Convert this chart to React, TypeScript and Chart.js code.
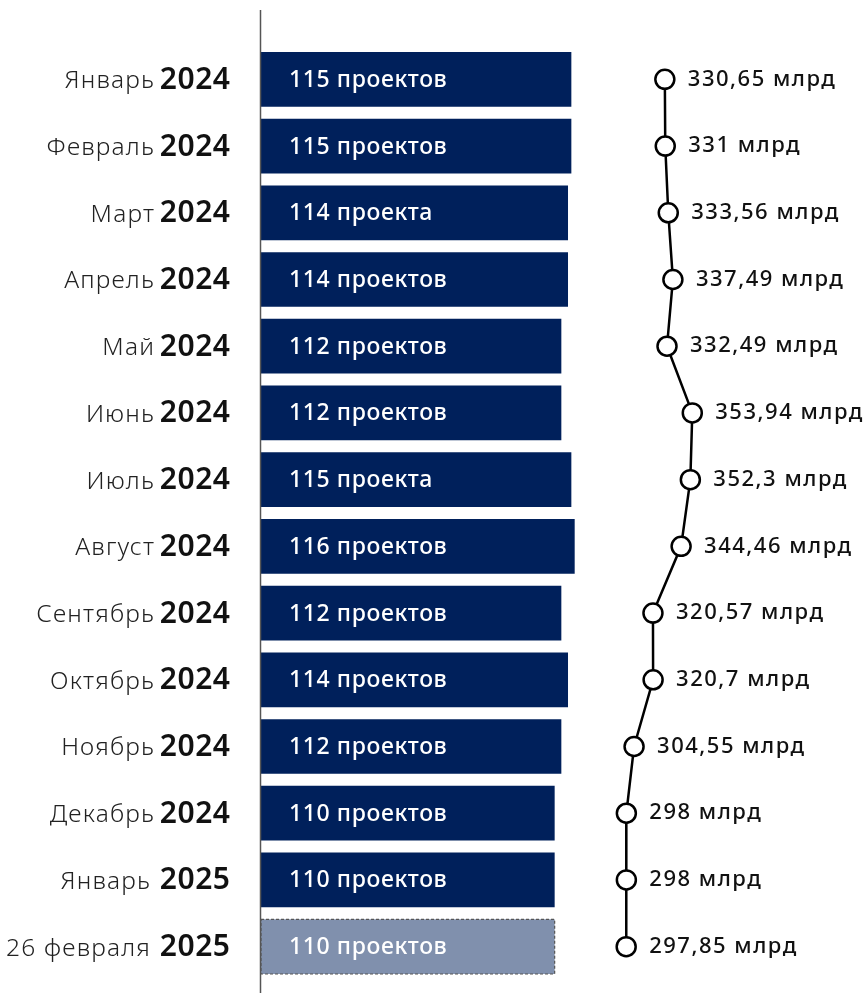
import React, { useEffect, useRef } from "react";
import { Chart, registerables } from "chart.js";

Chart.register(...registerables);

const months = ["Январь", "Февраль", "Март", "Апрель", "Май", "Июнь", "Июль", "Август", "Сентябрь", "Октябрь", "Ноябрь", "Декабрь", "Январь", "26 февраля"];
const years = ["2024", "2024", "2024", "2024", "2024", "2024", "2024", "2024", "2024", "2024", "2024", "2024", "2025", "2025"];
const projects = [115, 115, 114, 114, 112, 112, 115, 116, 112, 114, 112, 110, 110, 110];
const projectLabels = ["115 проектов", "115 проектов", "114 проекта", "114 проектов", "112 проектов", "112 проектов", "115 проекта", "116 проектов", "112 проектов", "114 проектов", "112 проектов", "110 проектов", "110 проектов", "110 проектов"];
const amounts = [330.65, 331, 333.56, 337.49, 332.49, 353.94, 352.3, 344.46, 320.57, 320.7, 304.55, 298, 298, 297.85];
const amountLabels = amounts.map((v) => String(v).replace(".", ",") + " млрд");

const FONT = "'Noto Sans', sans-serif";
const NAVY = "#00205B";
const NAVY_LIGHT = "#8090AD";

const drawPlugin = {
  id: "customDraw",
  afterDatasetsDraw(chart: any) {
    const ctx = chart.ctx;
    const yScale = chart.scales.y;
    const area = chart.chartArea;
    ctx.save();
    // axis line
    ctx.strokeStyle = "#555";
    ctx.lineWidth = 1.5;
    ctx.beginPath();
    ctx.moveTo(area.left - 0.5, 10);
    ctx.lineTo(area.left - 0.5, chart.height);
    ctx.stroke();

    // category labels
    ctx.textBaseline = "middle";
    ctx.textAlign = "left";
    for (let i = 0; i < months.length; i++) {
      const y = yScale.getPixelForValue(i) + 1;
      ctx.font = `600 30px ${FONT}`;
      (ctx as any).letterSpacing = "0.5px";
      const yw = ctx.measureText(years[i]).width - 0.5;
      ctx.fillStyle = "#111";
      ctx.fillText(years[i], 230 - yw, y);
      ctx.font = `300 24.5px ${FONT}`;
      (ctx as any).letterSpacing = "1.2px";
      const mw = ctx.measureText(months[i]).width - 1.2;
      ctx.fillStyle = "#222";
      ctx.fillText(months[i], 230 - yw - (years[i] === "2025" ? 10 : 6) - mw, y + 1);
    }

    // bar labels + dashed border on last bar
    const barMeta = chart.getDatasetMeta(0);
    barMeta.data.forEach((bar: any, i: number) => {
      const p = bar.getProps(["x", "y", "base", "height"], true);
      ctx.font = `500 23px ${FONT}`;
      (ctx as any).letterSpacing = "0.6px";
      ctx.fillStyle = "#fff";
      ctx.fillText(projectLabels[i], p.base + 28, p.y + 1);
      if (i === barMeta.data.length - 1) {
        ctx.save();
        ctx.setLineDash([3, 2]);
        ctx.strokeStyle = "#555";
        ctx.lineWidth = 1.2;
        ctx.strokeRect(p.base, p.y - p.height / 2, p.x - p.base, p.height);
        ctx.restore();
      }
    });

    // line labels
    const lineMeta = chart.getDatasetMeta(1);
    lineMeta.data.forEach((pt: any, i: number) => {
      const p = pt.getProps(["x", "y"], true);
      ctx.font = `500 22px ${FONT}`;
      (ctx as any).letterSpacing = "1.5px";
      ctx.fillStyle = "#111";
      ctx.fillText(amountLabels[i], p.x + 23, p.y);
    });
    ctx.restore();
  },
};

export default function App() {
  const ref = useRef<HTMLCanvasElement | null>(null);
  useEffect(() => {
    if (!ref.current) return;
    const chart = new Chart(ref.current, {
      type: "bar",
      data: {
        labels: months.map((m, i) => m + " " + years[i]),
        datasets: [
          {
            type: "bar",
            data: projects,
            base: 22,
            backgroundColor: projects.map((_, i) => (i === projects.length - 1 ? NAVY_LIGHT : NAVY)),
            borderWidth: 0,
            categoryPercentage: 1,
            barPercentage: 0.82,
            xAxisID: "x",
            yAxisID: "y",
          } as any,
          {
            type: "line",
            data: amounts,
            xAxisID: "x2",
            yAxisID: "y",
            borderColor: "#000",
            borderWidth: 2.5,
            pointRadius: 9.5,
            pointBorderWidth: 2.5,
            pointBackgroundColor: "#fff",
            pointBorderColor: "#000",
            tension: 0,
            clip: false,
          } as any,
        ],
      },
      options: {
        indexAxis: "y",
        animation: false,
        responsive: true,
        maintainAspectRatio: false,
        layout: { padding: { left: 261, right: 0, top: 46, bottom: 13 } },
        plugins: { legend: { display: false }, tooltip: { enabled: false } },
        scales: {
          y: { type: "category", display: false, offset: true, grid: { display: false } },
          x: { type: "linear", display: false, min: 22, max: 200 },
          x2: { type: "linear", axis: "x", display: false, min: -12, max: 492 },
        } as any,
      },
      plugins: [drawPlugin],
    });
    return () => chart.destroy();
  }, []);
  return (
    <div style={{ position: "fixed", left: 0, top: 0, width: 867, height: 993, background: "#fff" }}>
      <canvas ref={ref} />
    </div>
  );
}
